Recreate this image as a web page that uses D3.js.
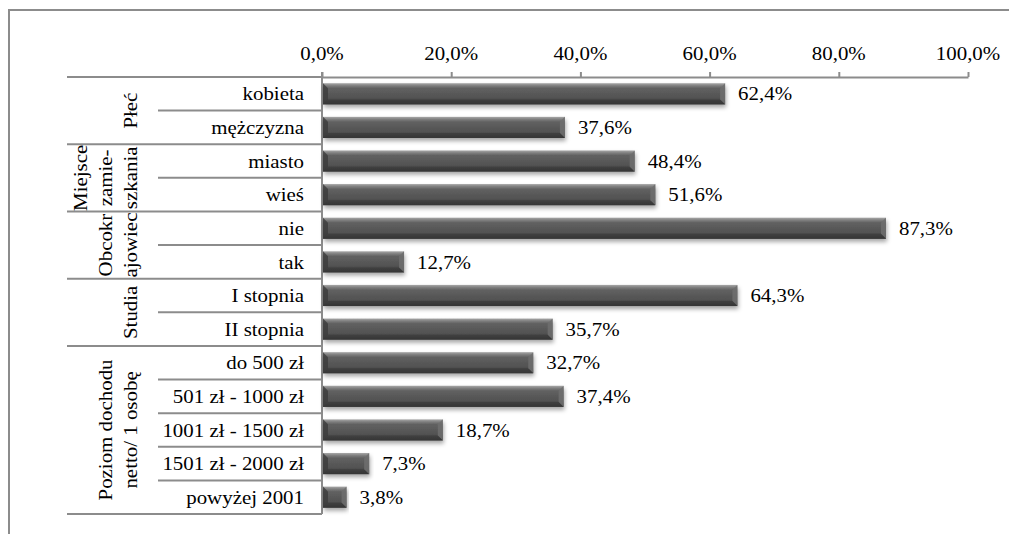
<!DOCTYPE html>
<html>
<head>
<meta charset="utf-8">
<script src="https://cdn.jsdelivr.net/npm/d3@7"></script>
<style>
  html, body { margin: 0; padding: 0; background: #fff; }
  svg { display: block; }
</style>
</head>
<body>
<svg id="chart" width="1009" height="534"></svg>
<script>
// Answer categories, in drawing order
const categories = ["kobieta", "mężczyzna", "miasto", "wieś", "nie", "tak",
  "I stopnia", "II stopnia", "do 500 zł", "501 zł - 1000 zł",
  "1001 zł - 1500 zł", "1501 zł - 2000 zł", "powyżej 2001"];
// Share of respondents (%)
const values = [62.4, 37.6, 48.4, 51.6, 87.3, 12.7, 64.3, 35.7, 32.7, 37.4, 18.7, 7.3, 3.8];
// Grouping variables: label lines and number of categories in each group
const groupLabels = [["Płeć"], ["Miejsce", "zamie-", "szkania"], ["Obcokr", "ajowiec"],
  ["Studia"], ["Poziom dochodu", "netto/ 1 osobę"]];
const groupSizes = [2, 2, 2, 2, 5];
// Axis ticks
const tickValues = [0, 20, 40, 60, 80, 100];

const fmt = v => v.toFixed(1).replace(".", ",") + "%";

const svg = d3.select("#chart");
const grey = "#8c8c8c";
const fontSize = 19;
const fontFamily = "'Liberation Serif', 'Times New Roman', Tinos, 'DejaVu Serif', serif";
const sx = 1.1; // slightly wide lettering

// Text helper: positioned group, widened glyphs
function label(parent, tx, ty, txt, anchor, rotate) {
  const g = parent.append("g")
    .attr("transform", `translate(${tx},${ty})` + (rotate ? " rotate(-90)" : "") + ` scale(${sx},1)`);
  g.append("text")
    .attr("text-anchor", anchor)
    .attr("dy", rotate ? 0 : "0.35em")
    .style("font-family", fontFamily)
    .style("font-size", fontSize + "px")
    .style("fill", "#000")
    .text(txt);
  return g;
}

const x0 = 322, x1 = 968, yTop = 77, yBottom = 514;
const colGroup = 67, colCat = 158;

const x = d3.scaleLinear().domain([0, 100]).range([x0, x1]);
const y = d3.scaleBand().domain(categories).range([yTop, yBottom]).paddingInner(0.37).paddingOuter(0.185);
const step = y.step();

// Outer frame (top and left edges)
svg.append("path").attr("d", `M9,534 V10 H1009`).attr("fill", "none")
  .attr("stroke", grey).attr("stroke-width", 2);

// Defs: bar shading and shadow
const defs = svg.append("defs");
const grad = defs.append("linearGradient").attr("id", "barFill")
  .attr("x1", 0).attr("y1", 0).attr("x2", 0).attr("y2", 1);
[[0, "#a8a8a8"], [0.12, "#7e7e7e"], [0.24, "#616161"], [0.7, "#525252"], [0.85, "#444"], [1, "#383838"]]
  .forEach(([o, c]) => grad.append("stop").attr("offset", o).attr("stop-color", c));
const shadow = defs.append("filter").attr("id", "shadow")
  .attr("x", "-5%").attr("y", "-30%").attr("width", "115%").attr("height", "190%");
shadow.append("feDropShadow").attr("dx", 1).attr("dy", 3).attr("stdDeviation", 2)
  .attr("flood-color", "#000").attr("flood-opacity", 0.35);

// Top axis
const axis = d3.axisTop(x).tickValues(tickValues).tickFormat("").tickSize(5).tickSizeOuter(0);
const gAxis = svg.append("g").attr("transform", `translate(0,${yTop})`).call(axis);
gAxis.select(".domain").attr("stroke", grey).attr("stroke-width", 2);
gAxis.selectAll(".tick line").attr("stroke", grey).attr("stroke-width", 2);
tickValues.forEach(t => label(svg, x(t), 53, fmt(t), "middle", false));

// Table of category labels: rules
const lines = svg.append("g").attr("stroke", grey).attr("stroke-width", 2);
let idx = 0;
const groupStarts = [];
groupSizes.forEach(n => { groupStarts.push(idx); idx += n; });
// group boundaries (full width)
groupStarts.concat([categories.length]).forEach(i => {
  const yy = yTop + i * step;
  lines.append("line").attr("x1", colGroup).attr("x2", x0).attr("y1", yy).attr("y2", yy);
});
// inner boundaries
groupStarts.forEach((s, g) => {
  for (let k = 1; k < groupSizes[g]; k++) {
    const yy = yTop + (s + k) * step;
    lines.append("line").attr("x1", colCat).attr("x2", x0).attr("y1", yy).attr("y2", yy);
  }
});
// zero line
lines.append("line").attr("x1", x0).attr("x2", x0).attr("y1", yTop - 5).attr("y2", yBottom);

// Group labels (rotated)
groupLabels.forEach((linesTxt, g) => {
  const yc = yTop + (groupStarts[g] + groupSizes[g] / 2) * step;
  const n = linesTxt.length;
  linesTxt.forEach((t, k) => {
    const bx = 137 - (n - 1 - k) * 25;
    label(svg, bx, yc, t, "middle", true);
  });
});

// Category labels
categories.forEach(c => label(svg, 304, y(c) + y.bandwidth() / 2, c, "end", false));

// Bars with bevelled ends
const data = categories.map((c, i) => ({ c, v: values[i] }));
const bars = svg.append("g").selectAll("g").data(data).join("g")
  .attr("transform", d => `translate(${x(0) + 1},${y(d.c)})`);
const bh = y.bandwidth();
const bev = 5;
bars.append("rect").attr("width", d => x(d.v) - x(0) - 1).attr("height", bh)
  .attr("fill", "url(#barFill)").attr("filter", "url(#shadow)");
// left bevel
bars.append("path").attr("d", `M0,0 L${bev},${bev} L${bev},${bh - bev} L0,${bh} Z`)
  .attr("fill", "#3c3c3c").attr("opacity", 0.8);
// right bevel
bars.append("path").attr("d", d => {
  const w = x(d.v) - x(0) - 1;
  return `M${w},0 L${w - bev},${bev} L${w - bev},${bh - bev} L${w},${bh} Z`;
}).attr("fill", "#6e6e6e").attr("opacity", 0.85);
// bottom edge
bars.append("path").attr("d", d => {
  const w = x(d.v) - x(0) - 1;
  return `M0,${bh} L${bev},${bh - bev} L${w - bev},${bh - bev} L${w},${bh} Z`;
}).attr("fill", "#333").attr("opacity", 0.45);

// Value labels
data.forEach(d => label(svg, x(d.v) + 13, y(d.c) + bh / 2, fmt(d.v), "start", false));
</script>
</body>
</html>
